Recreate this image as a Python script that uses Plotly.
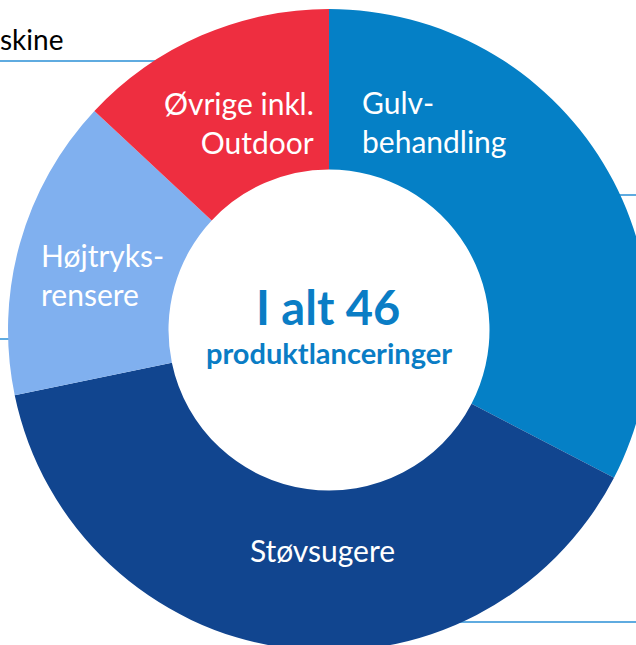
import plotly.graph_objects as go

# Data
categories = ["Gulvbehandling", "Støvsugere", "Højtryksrensere", "Øvrige inkl. Outdoor"]
label_texts = ["Gulv-<br>behandling", "Støvsugere", "Højtryks-<br>rensere", "Øvrige inkl.<br>Outdoor"]
values = [15, 18, 7, 6]
colors = ["#0580c6", "#11458f", "#80b0ef", "#ee2e40"]
total_title = "I alt 46"
total_sub = "produktlanceringer"
side_text = "skine"

W, H = 650, 651

fig = go.Figure(go.Pie(
    labels=categories,
    values=values,
    hole=0.5,
    sort=False,
    direction="clockwise",
    rotation=0,
    domain=dict(x=[8 / W, 1], y=[0, 1 - 9 / H]),
    marker=dict(colors=colors, line=dict(width=0)),
    textinfo="none",
    hoverinfo="label+value",
    showlegend=False,
))


def px(x):
    return x / W


def py(y):
    return 1 - y / H


LABEL_FONT = dict(family="Lato", size=30, color="white")
# label placements (pixel anchor, alignment)
label_pos = [
    (360, 121, "left", "left"),
    (322, 550, "center", "center"),
    (39, 274, "left", "left"),
    (316, 123, "right", "right"),
]
annotations = []
for txt, (x, y, xa, al) in zip(label_texts, label_pos):
    annotations.append(dict(x=px(x), y=py(y), xref="paper", yref="paper", text=txt,
                            showarrow=False, xanchor=xa, yanchor="middle", align=al,
                            font=LABEL_FONT))

annotations.append(dict(x=px(328), y=py(307), xref="paper", yref="paper", text="<b>" + total_title + "</b>",
                        showarrow=False, xanchor="center", yanchor="middle",
                        font=dict(family="Lato", size=47, color="#0a7dc5")))
annotations.append(dict(x=px(328.5), y=py(352), xref="paper", yref="paper", text="<b>" + total_sub + "</b>",
                        showarrow=False, xanchor="center", yanchor="middle",
                        font=dict(family="Lato", size=29, color="#0a7dc5")))
annotations.append(dict(x=px(-2), y=py(39), xref="paper", yref="paper", text=side_text,
                        showarrow=False, xanchor="left", yanchor="middle",
                        font=dict(family="Lato", size=28, color="black")))

line_col = "#2a8fd6"
shapes = [
    dict(type="line", xref="paper", yref="paper", x0=0, x1=px(160), y0=py(61), y1=py(61),
         line=dict(color=line_col, width=1.5), layer="below"),
    dict(type="line", xref="paper", yref="paper", x0=px(600), x1=1, y0=py(195), y1=py(195),
         line=dict(color=line_col, width=1.5), layer="below"),
    dict(type="line", xref="paper", yref="paper", x0=px(440), x1=1, y0=py(622), y1=py(622),
         line=dict(color=line_col, width=1.5), layer="below"),
    dict(type="line", xref="paper", yref="paper", x0=0, x1=px(20), y0=py(339), y1=py(339),
         line=dict(color=line_col, width=1.5), layer="below"),
]

fig.update_layout(
    width=W, height=H,
    margin=dict(l=0, r=0, t=0, b=0),
    paper_bgcolor="white",
    plot_bgcolor="white",
    annotations=annotations,
    shapes=shapes,
)

fig.write_html("out.html",
               config={"displayModeBar": False},
               post_script="document.body.style.margin='0';document.body.style.overflow='hidden';")
